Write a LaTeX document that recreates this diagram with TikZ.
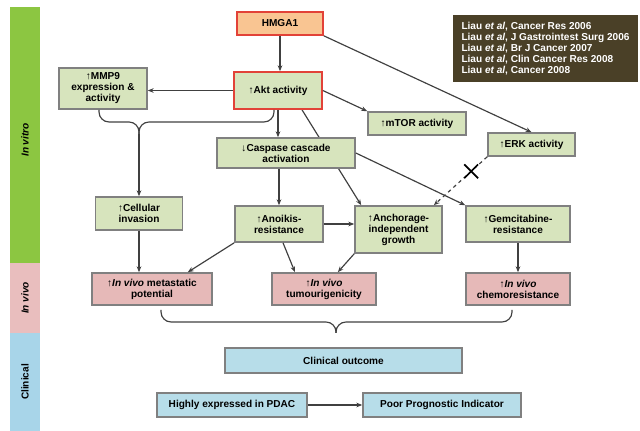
\documentclass[tikz,border=0pt]{standalone}
\usepackage{fontspec}
\setmainfont{Liberation Sans}
\usetikzlibrary{arrows.meta,positioning,calc,backgrounds,shapes.misc}
\definecolor{barGreen}{RGB}{140,198,65}
\definecolor{barPink}{RGB}{233,190,190}
\definecolor{barBlue}{RGB}{168,213,233}
\definecolor{boxGreen}{RGB}{215,228,189}
\definecolor{boxPink}{RGB}{230,185,184}
\definecolor{boxBlue}{RGB}{183,221,233}
\definecolor{boxOrange}{RGB}{249,197,146}
\definecolor{boxRed}{RGB}{226,66,56}
\definecolor{boxBorder}{RGB}{128,128,128}
\definecolor{refsFill}{RGB}{74,64,39}
\definecolor{linkGray}{RGB}{64,64,64}
\newcommand{\pxl}{0.03cm}

\begin{document}
\begin{tikzpicture}[
    x=\pxl, y=-\pxl,
    every node/.style={font=\fontsize{8.6}{9.4}\selectfont\bfseries},
    sz/.style 2 args={minimum width=#1*\pxl, minimum height=#2*\pxl},
    box/.style={draw=boxBorder, line width=1.4pt, align=center, inner sep=1pt},
    greenbox/.style={box, fill=boxGreen},
    pinkbox/.style={box, fill=boxPink},
    bluebox/.style={box, fill=boxBlue},
    link/.style={draw=linkGray, line width=1pt, -{Stealth[length=5pt,width=4pt]}},
    brace/.style={draw=linkGray, line width=1pt, rounded corners=0.3cm}
  ]
    \useasboundingbox (0,0) rectangle (640,431);

    % side bands
    \fill[barGreen] (10,7) rectangle (40,263);
    \fill[barPink] (10,263) rectangle (40,333);
    \fill[barBlue] (10,333) rectangle (40,431);
    \node[rotate=90] (vitro) at (25,140) {\itshape In vitro};
    \node[rotate=90] (vivo) at (25,298) {\itshape In vivo};
    \node[rotate=90] (clinical) at (25,382) {Clinical};

    % boxes
    \node[box, fill=boxOrange, draw=boxRed, sz={86}{23}] (hmga) at (280,23.5) {HMGA1};
    \node[greenbox, draw=boxRed, sz={88}{37}] (akt) at (278,90.5) {↑Akt activity};
    \node[greenbox, sz={88}{41}] (mmp) at (103,88.5) {↑MMP9\\expression \&\\activity};
    \node[greenbox, sz={98}{23}] (mtor) at (417,123.5) {↑mTOR activity};
    \node[greenbox, sz={87}{23}] (erk) at (531.5,144.5) {↑ERK activity};
    \node[greenbox, sz={138}{30}] (casp) at (286,153) {↓Caspase cascade\\activation};
    \node[greenbox, sz={87}{33}] (cell) at (139,213.5) {↑Cellular\\invasion};
    \node[greenbox, sz={88}{36}] (anoi) at (279,224) {↑Anoikis-\\resistance};
    \node[greenbox, sz={87}{47}] (anch) at (398.5,229.5) {↑Anchorage-\\independent\\growth};
    \node[greenbox, sz={104}{36}] (gem) at (518,224) {↑Gemcitabine-\\resistance};
    \node[pinkbox, sz={120}{32}] (meta) at (152,289) {↑\textit{In vivo} metastatic\\potential};
    \node[pinkbox, sz={104}{32}] (tumo) at (324,289) {↑\textit{In vivo}\\tumourigenicity};
    \node[pinkbox, sz={104}{32}] (chemo) at (518,289) {↑\textit{In vivo}\\chemoresistance};
    \node[bluebox, sz={237}{25}] (clin) at (343.5,360.5) {Clinical outcome};
    \node[bluebox, sz={150}{24}] (pdac) at (232,405) {Highly expressed in PDAC};
    \node[bluebox, sz={158}{24}] (poor) at (442,405) {Poor Prognostic Indicator};
    \node[fill=refsFill, text=white, align=left, inner sep=1pt, sz={185}{67}] (refs) at (545.5,48.5)
      {Liau \textit{et al}, Cancer Res 2006\\
       Liau \textit{et al}, J Gastrointest Surg 2006\\
       Liau \textit{et al}, Br J Cancer 2007\\
       Liau \textit{et al}, Clin Cancer Res 2008\\
       Liau \textit{et al}, Cancer 2008};

    % arrows
    \draw[link] (hmga.south) -- (hmga.south |- akt.north);
    \draw[link] (akt.west) -- (akt.west -| mmp.east);
    \draw[link] (hmga.south east) -- (erk.north);
    \draw[link] (akt.east) -- (mtor.north west);
    \draw[link] (akt.south) -- (akt.south |- casp.north);
    \begin{pgfonlayer}{background}
      \draw[link] ($(akt.south)+(24,0)$) -- ($(anch.north west)+(7,0)$);
    \end{pgfonlayer}
    \draw[link] (anoi.north |- casp.south) -- (anoi.north);
    \draw[link] (casp.east) -- (gem.north west);
    \draw[link, dashed] (erk.south west) -- ($(anch.north east)+(-9,0)$)
      node[pos=0.3, solid, cross out, draw=black, line width=1.5pt, sz={12}{12}] (xmark) {};
    \draw[link] (anoi.east) -- (anoi.east -| anch.west);
    \draw[link] (cell.south) -- (cell.south |- meta.north);
    \draw[link] (anoi.south west) -- ($(meta.north east)+(-25,0)$);
    \draw[link] ($(anoi.south)+(4,0)$) -- ($(tumo.north)+(-29,0)$);
    \draw[link] (anch.south west) -- ($(tumo.north east)+(-39,0)$);
    \draw[link] (gem.south) -- (chemo.north);
    \draw[link] (pdac.east) -- (poor.west);

    % braces
    \coordinate (topjoin) at (139,134);
    \draw[brace] ($(mmp.south)+(-4,0)$) |- (139,122) -- (topjoin);
    \draw[brace] ($(akt.south)+(-4,0)$) |- (139,122) -- (topjoin);
    \draw[link] (topjoin) -- (topjoin |- cell.north);
    \coordinate (lowjoin) at (336,333);
    \draw[brace] ($(meta.south)+(9,4)$) |- (336,322) -- (lowjoin);
    \draw[brace] ($(chemo.south)+(-6,4)$) |- (336,322) -- (lowjoin);
  \end{tikzpicture}
\end{document}
